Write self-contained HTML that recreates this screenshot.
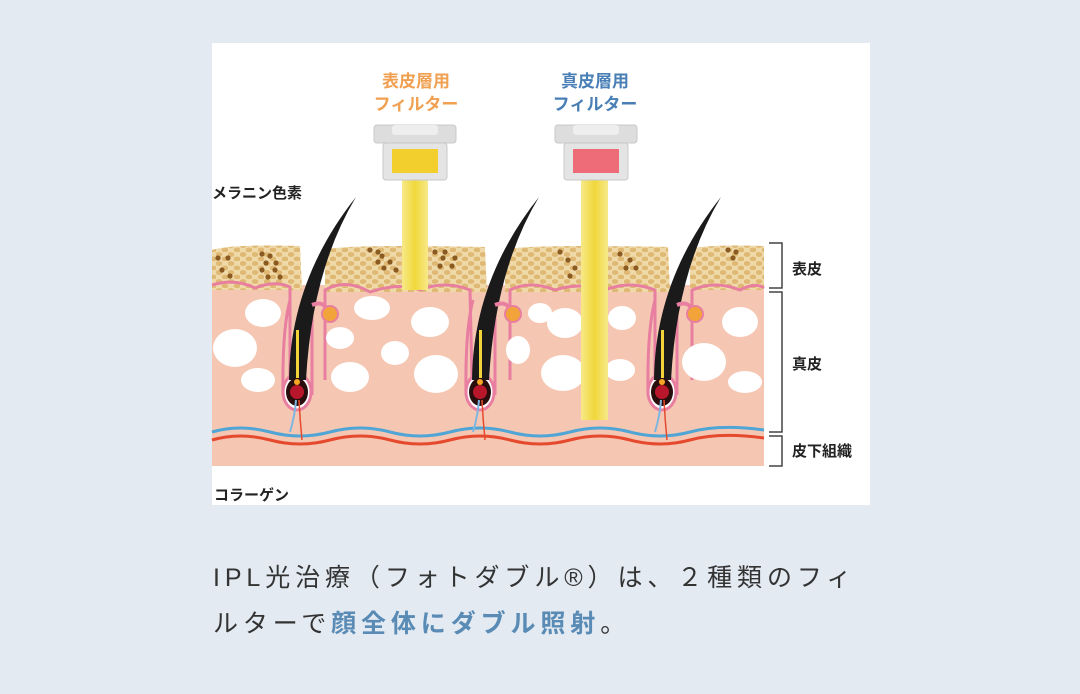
<!DOCTYPE html>
<html><head><meta charset="utf-8"><style>
body{margin:0;width:1080px;height:694px;background:#e3eaf2;overflow:hidden;font-family:"Liberation Sans","Noto Sans CJK JP",sans-serif;}
.t{position:absolute;left:213px;font-size:25px;color:#333;letter-spacing:4.9px;line-height:46px;white-space:nowrap;}
.b{color:#5a8bb5;font-weight:bold;}
</style></head><body>
<svg width="1080" height="694" style="position:absolute;left:0;top:0" font-family="Liberation Sans, Noto Sans CJK JP, sans-serif">
<defs>
<pattern id="hex" width="12" height="9" patternUnits="userSpaceOnUse">
<rect width="12" height="9" fill="#f0d9a8"/>
<ellipse cx="3" cy="2.5" rx="3.3" ry="2.4" fill="#dfb874"/>
<ellipse cx="9" cy="7" rx="3.3" ry="2.4" fill="#dfb874"/>
</pattern>
<linearGradient id="beam" x1="0" x2="1"><stop offset="0" stop-color="#f7e98a"/><stop offset="0.5" stop-color="#f0d83a"/><stop offset="1" stop-color="#f7e98a"/></linearGradient>
</defs>
<rect x="212" y="43" width="658" height="462" fill="#fff"/>
<rect x="212" y="285" width="552" height="181" fill="#f5c6b2"/>
<g fill="url(#hex)">
<path d="M212 250 Q230 244 300 246 L302 290 L212 290Z"/>
<path d="M325 250 Q340 244 485 247 L487 292 L325 292Z"/>
<path d="M505 250 Q520 244 668 247 L670 292 L505 292Z"/>
<path d="M690 250 Q700 244 764 246 L764 290 L690 290Z"/>
</g>
<g fill="#8a5a20">
<circle cx="218" cy="258" r="2.6"/><circle cx="228" cy="258" r="2.6"/><circle cx="222" cy="270" r="2.6"/><circle cx="230" cy="276" r="2.6"/><circle cx="262" cy="254" r="2.6"/><circle cx="270" cy="256" r="2.6"/><circle cx="266" cy="263" r="2.6"/><circle cx="276" cy="263" r="2.6"/><circle cx="262" cy="270" r="2.6"/><circle cx="275" cy="270" r="2.6"/><circle cx="268" cy="277" r="2.6"/><circle cx="280" cy="277" r="2.6"/>
<circle cx="370" cy="250" r="2.6"/><circle cx="378" cy="252" r="2.6"/><circle cx="382" cy="256" r="2.6"/><circle cx="378" cy="262" r="2.6"/><circle cx="390" cy="262" r="2.6"/><circle cx="384" cy="268" r="2.6"/><circle cx="396" cy="270" r="2.6"/><circle cx="435" cy="252" r="2.6"/><circle cx="445" cy="252" r="2.6"/><circle cx="443" cy="258" r="2.6"/><circle cx="440" cy="266" r="2.6"/><circle cx="455" cy="258" r="2.6"/><circle cx="452" cy="266" r="2.6"/>
<circle cx="560" cy="252" r="2.6"/><circle cx="568" cy="260" r="2.6"/><circle cx="575" cy="268" r="2.6"/><circle cx="570" cy="276" r="2.6"/><circle cx="620" cy="254" r="2.6"/><circle cx="630" cy="260" r="2.6"/><circle cx="626" cy="268" r="2.6"/><circle cx="636" cy="268" r="2.6"/>
<circle cx="728" cy="250" r="2.6"/><circle cx="736" cy="252" r="2.6"/><circle cx="733" cy="258" r="2.6"/>
</g>
<path d="M212 285 Q235 278 255 288 Q275 280 290 287 L290 380 M325 380 L325 290 Q345 278 370 292 Q400 282 420 290 Q445 280 470 290 L472 380 M510 380 L510 290 Q530 280 555 290 Q580 282 605 290 Q630 280 655 290 L655 380 M692 380 L692 290 Q715 280 740 290 Q755 282 764 288" fill="none" stroke="#e87fa0" stroke-width="3"/>
<g fill="#fff">
<ellipse cx="263" cy="313" rx="18" ry="14"/><ellipse cx="235" cy="348" rx="22" ry="19"/><ellipse cx="258" cy="380" rx="17" ry="12"/>
<ellipse cx="372" cy="308" rx="18" ry="12"/><ellipse cx="340" cy="338" rx="14" ry="11"/><ellipse cx="430" cy="322" rx="19" ry="15"/><ellipse cx="350" cy="377" rx="19" ry="15"/><ellipse cx="395" cy="353" rx="14" ry="12"/><ellipse cx="436" cy="374" rx="22" ry="19"/>
<ellipse cx="540" cy="313" rx="12" ry="10"/><ellipse cx="518" cy="350" rx="12" ry="14"/><ellipse cx="565" cy="323" rx="18" ry="15"/><ellipse cx="563" cy="373" rx="22" ry="18"/><ellipse cx="622" cy="318" rx="14" ry="12"/><ellipse cx="620" cy="370" rx="15" ry="11"/>
<ellipse cx="740" cy="322" rx="18" ry="15"/><ellipse cx="704" cy="362" rx="22" ry="19"/><ellipse cx="745" cy="382" rx="17" ry="11"/>
</g>
<path d="M212 432 Q240 424 270 432 T330 432 T390 432 T450 432 T510 432 T570 432 T630 432 T690 432 T764 430" fill="none" stroke="#4fa6d6" stroke-width="3"/>
<path d="M212 440 Q240 432 270 440 T330 440 T390 440 T450 440 T510 440 T570 440 T630 440 T690 440 T764 438" fill="none" stroke="#e64a2e" stroke-width="3"/>
<g id="h">
<path d="M283 395 Q282 330 290 300" fill="none" stroke="#e87fa0" stroke-width="3"/>
<path d="M312 395 Q312 330 312 298" fill="none" stroke="#e87fa0" stroke-width="3"/>
<ellipse cx="297" cy="392" rx="14" ry="18" fill="#fff" stroke="#e87fa0" stroke-width="3"/>
<path d="M289 380 Q290 280 356 197 Q312 270 306 380Z" fill="#1a1a1a"/>
<ellipse cx="297" cy="392" rx="11" ry="14" fill="#2a0d0d"/>
<circle cx="297" cy="392" r="7" fill="#b8162a"/>
<path d="M296 378 L296 330 L299 330 L299 378Z" fill="#f2d43a"/>
<circle cx="297" cy="382" r="3" fill="#f5a623"/>
<path d="M296 400 Q295 415 290 432" stroke="#7fb6e0" stroke-width="2" fill="none"/>
<path d="M299 400 Q300 420 302 440" stroke="#e64a2e" stroke-width="1.5" fill="none"/>
<path d="M312 305 Q325 300 327 312" stroke="#e87fa0" stroke-width="4" fill="none"/>
<circle cx="330" cy="314" r="8" fill="#f2a43a" stroke="#e87fa0" stroke-width="2"/>
</g>
<use href="#h" x="183"/>
<use href="#h" x="365"/>
<rect x="402" y="180" width="26" height="110" fill="url(#beam)"/>
<rect x="581" y="180" width="27" height="240" fill="url(#beam)"/>
<g>
<rect x="374" y="125" width="82" height="18" rx="3" fill="#ddd" stroke="#c8c8c8"/>
<rect x="392" y="125" width="46" height="10" rx="3" fill="#eee"/>
<rect x="383" y="143" width="64" height="37" rx="3" fill="#e4e4e4" stroke="#c8c8c8"/>
<rect x="392" y="149" width="46" height="24" fill="#f3cf2e"/>
<rect x="555" y="125" width="82" height="18" rx="3" fill="#ddd" stroke="#c8c8c8"/>
<rect x="573" y="125" width="46" height="10" rx="3" fill="#eee"/>
<rect x="564" y="143" width="64" height="37" rx="3" fill="#e4e4e4" stroke="#c8c8c8"/>
<rect x="573" y="149" width="46" height="24" fill="#ee6b78"/>
</g>
<g font-weight="bold" font-size="17" text-anchor="middle">
<text x="416" y="87" fill="#f0a050">表皮層用</text>
<text x="416" y="110" fill="#f0a050">フィルター</text>
<text x="595" y="87" fill="#4a7fb5">真皮層用</text>
<text x="595" y="110" fill="#4a7fb5">フィルター</text>
</g>
<g font-size="15" fill="#222" font-weight="bold">
<text x="212" y="198">メラニン色素</text>
<text x="214" y="500">コラーゲン</text>
<text x="792" y="274">表皮</text>
<text x="792" y="369">真皮</text>
<text x="792" y="456">皮下組織</text>
</g>
<g fill="none" stroke="#444" stroke-width="1.5">
<path d="M769 243 H782 V288 H769"/>
<path d="M769 292 H782 V432 H769"/>
<path d="M769 436 H782 V466 H769"/>
</g>
</svg>
<div class="t" style="top:555px">IPL光治療（フォトダブル®）は、２種類のフィ<br>ルターで<span class="b">顔全体にダブル照射</span>。</div>
</body></html>
